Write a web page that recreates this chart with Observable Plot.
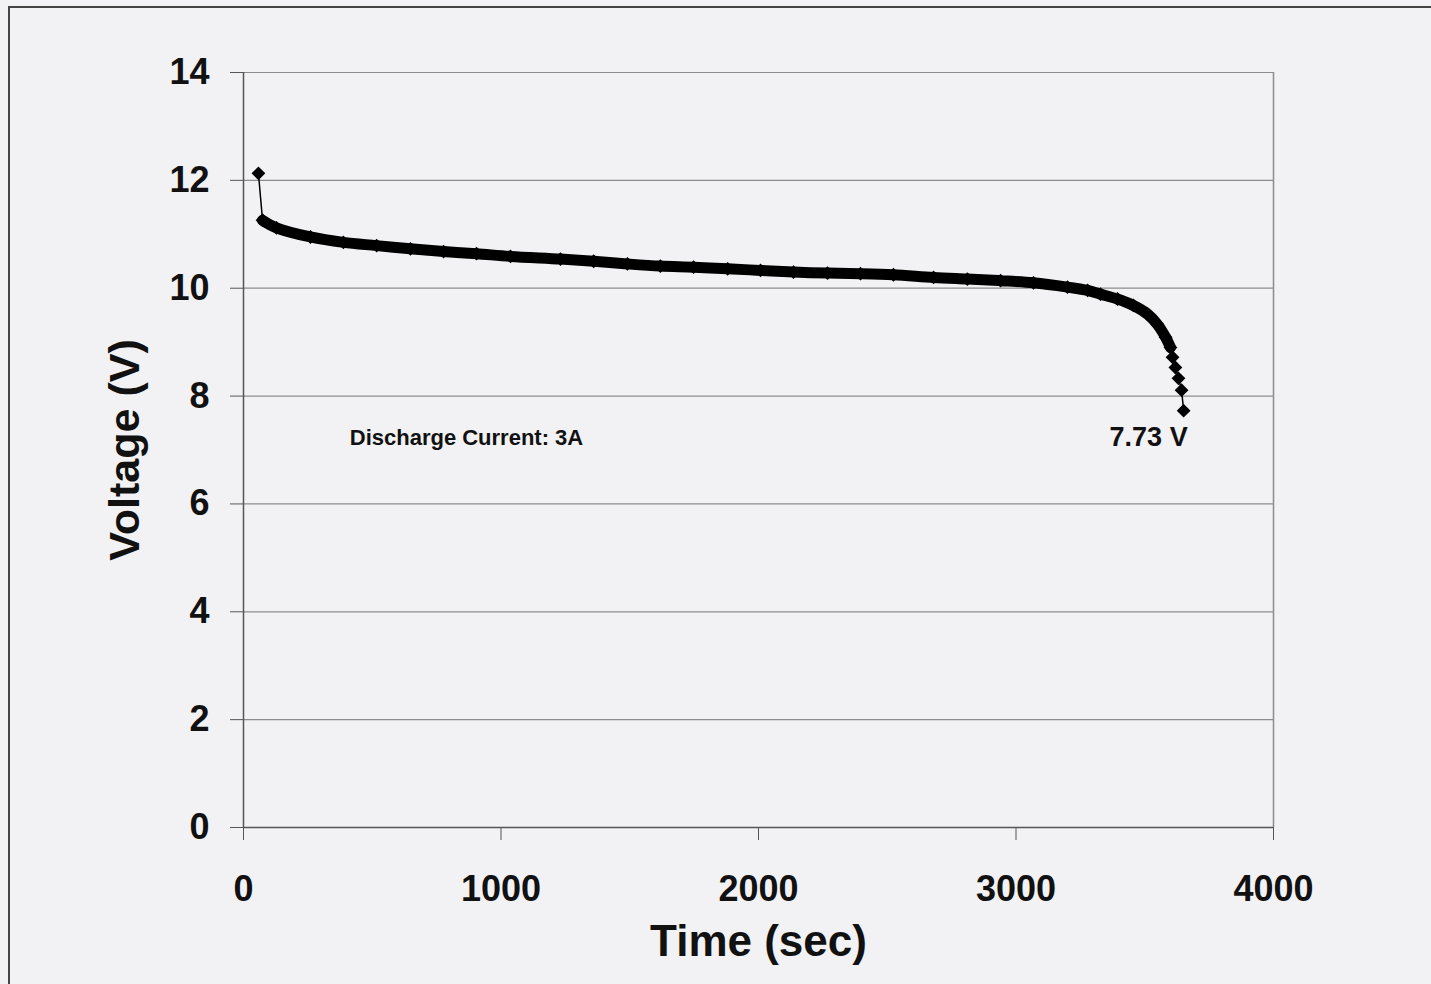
<!DOCTYPE html>
<html>
<head>
<meta charset="utf-8">
<script src="https://cdn.jsdelivr.net/npm/d3@7"></script>
<script src="https://cdn.jsdelivr.net/npm/@observablehq/plot@0.6"></script>
<style>
  html, body { margin: 0; padding: 0; background: #f2f2f4; }
  #wrap { position: relative; width: 1431px; height: 984px; overflow: hidden; }
  #border { position: absolute; left: 8px; top: 6px; right: -5px; bottom: -5px;
            border-left: 2px solid #444; border-top: 2px solid #444; pointer-events: none; }
  #chart { position: absolute; left: 0; top: 0; }
</style>
</head>
<body>
<div id="wrap"><div id="chart"></div><div id="border"></div></div>
<script>
// Discharge curve: time (s) and voltage (V)
const times = [58, 74, 128, 260, 388, 517, 648, 777, 905, 1037, 1231, 1360, 1491, 1619, 1748, 1880, 2008, 2136, 2268, 2396, 2524, 2680, 2811, 2940, 3068, 3200, 3278, 3328, 3394, 3456, 3511, 3549, 3581, 3600, 3608, 3619, 3631, 3643, 3651];
const volts = [12.13, 11.26, 11.12, 10.95, 10.85, 10.79, 10.73, 10.68, 10.64, 10.59, 10.54, 10.50, 10.45, 10.41, 10.39, 10.36, 10.33, 10.30, 10.28, 10.27, 10.25, 10.20, 10.17, 10.14, 10.10, 10.02, 9.96, 9.89, 9.80, 9.68, 9.52, 9.33, 9.09, 8.90, 8.72, 8.53, 8.33, 8.11, 7.73];

const xTicks = [0, 1000, 2000, 3000, 4000];
const yTicks = [0, 2, 4, 6, 8, 10, 12, 14];

const noteText = ["Discharge Current: 3A", "7.73 V"];
const noteTime = [866, 3515];
const noteVolt = [7.23, 7.23];

const xLabel = "Time (sec)";
const yLabel = "Voltage (V)";

const data = times.map((t, i) => ({t, v: volts[i]}));
const band = data.filter(d => d.t >= 74 && d.t <= 3600);
const notes = noteText.map((s, i) => ({s, t: noteTime[i], v: noteVolt[i]}));

const font = "'Liberation Sans', Arial, sans-serif";

const chart = Plot.plot({
  width: 1431,
  height: 984,
  marginLeft: 243,
  marginRight: 158,
  marginTop: 72,
  marginBottom: 157,
  style: {background: "transparent", fontFamily: font, color: "#111"},
  x: {domain: [0, 4000]},
  y: {domain: [0, 14]},
  marks: [
    Plot.ruleY(yTicks.filter(d => d > 0), {stroke: "#8c8c8c", strokeWidth: 1.2}),
    Plot.ruleX([4000], {stroke: "#8c8c8c", strokeWidth: 1.5}),
    Plot.ruleX([0], {stroke: "#555", strokeWidth: 1.5}),
    Plot.ruleY([0], {stroke: "#555", strokeWidth: 1.5}),
    Plot.axisY({ticks: yTicks, tickSize: 13, tickPadding: 21, label: null,
                fontSize: 36, fontWeight: "bold", stroke: "#555", fill: "#111"}),
    Plot.axisX({ticks: xTicks, tickSize: 13, tickPadding: 35, label: null, tickFormat: d => String(d),
                fontSize: 36, fontWeight: "bold", stroke: "#555", fill: "#111"}),
    Plot.line(data, {x: "t", y: "v", stroke: "#000", strokeWidth: 1.5}),
    Plot.line(band, {x: "t", y: "v", stroke: "#000", strokeWidth: 11,
                     strokeLinejoin: "round", strokeLinecap: "round", curve: "catmull-rom"}),
    Plot.dot(data, {x: "t", y: "v", symbol: "square", r: 5.5, rotate: 45, fill: "#000"}),
    Plot.text(notes.slice(0, 1), {x: "t", y: "v", text: "s", fontSize: 22, fontWeight: "bold", fill: "#111"}),
    Plot.text(notes.slice(1), {x: "t", y: "v", text: "s", fontSize: 27, fontWeight: "bold", fill: "#111"}),
    Plot.text([xLabel], {frameAnchor: "bottom", dy: 128, fontSize: 44, fontWeight: "bold", fill: "#111"}),
    Plot.text([yLabel], {frameAnchor: "left", textAnchor: "middle", dx: -118, rotate: -90, fontSize: 43, fontWeight: "bold", fill: "#111"})
  ]
});
document.getElementById("chart").appendChild(chart);
</script>
</body>
</html>
